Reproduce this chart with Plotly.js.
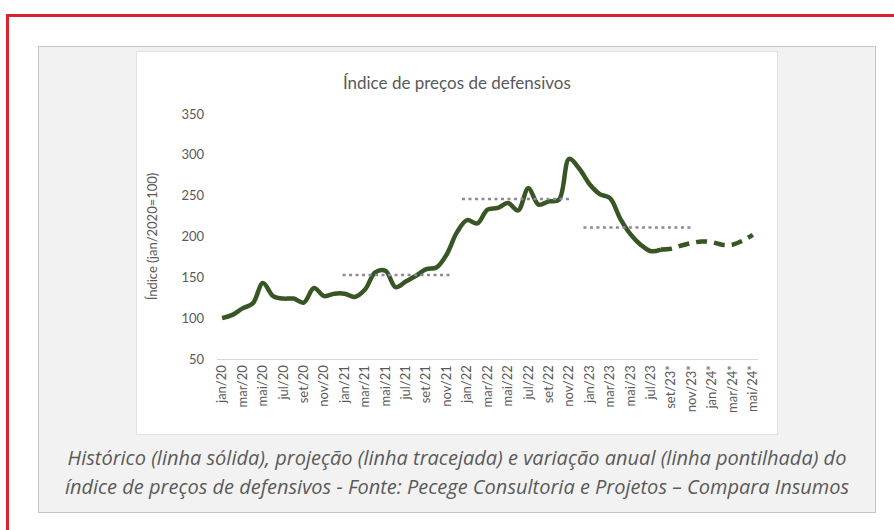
<!DOCTYPE html>
<html>
<head>
<meta charset="utf-8">
<script src="https://cdn.plot.ly/plotly-3.0.1.min.js"></script>
<style>
  html, body { margin: 0; padding: 0; background: #ffffff; width: 894px; height: 530px; overflow: hidden; }
  #red { position: absolute; left: 6px; top: 14px; width: 1000px; height: 700px; border: 3px solid #d9232e; box-sizing: border-box; }
  #grey { position: absolute; left: 38px; top: 46px; width: 838px; height: 467px; background: #f2f2f2; border: 1px solid #c6c6c6; box-sizing: border-box; }
  #white { position: absolute; left: 136px; top: 51px; width: 642px; height: 384px; background: #ffffff; border: 1px solid #e2e2e2; box-sizing: border-box; }
  #caption { position: absolute; left: 18px; top: 443px; width: 878px; text-align: center; font-family: "Open Sans", sans-serif; font-style: italic; font-size: 20px; line-height: 29px; color: #5a5a5a; white-space: nowrap; }
  #chart { position: absolute; left: 0; top: 0; width: 894px; height: 530px; }
</style>
</head>
<body>
<div id="red"></div>
<div id="grey"></div>
<div id="white"></div>
<div id="caption">Histórico (linha sólida), projeção (linha tracejada) e variação anual (linha pontilhada) do<br>índice de preços de defensivos - Fonte: Pecege Consultoria e Projetos – Compara Insumos</div>
<div id="chart"></div>
<script>
// Monthly categories jan/20 .. mai/24 (index 0..52)
const months = ["jan/20","fev/20","mar/20","abr/20","mai/20","jun/20","jul/20","ago/20","set/20","out/20","nov/20","dez/20",
  "jan/21","fev/21","mar/21","abr/21","mai/21","jun/21","jul/21","ago/21","set/21","out/21","nov/21","dez/21",
  "jan/22","fev/22","mar/22","abr/22","mai/22","jun/22","jul/22","ago/22","set/22","out/22","nov/22","dez/22",
  "jan/23","fev/23","mar/23","abr/23","mai/23","jun/23","jul/23","ago/23","set/23*","out/23*","nov/23*","dez/23*",
  "jan/24*","fev/24*","mar/24*","abr/24*","mai/24*"];

// Historical index (solid line), jan/20 .. ago/23
const historico = [100,104,112,118,143,127,124,124,119,137,127,130,
  130,126,135,156,158,138,145,152,160,162,178,205,
  220,216,233,235,241,232,259,239,243,245,295,283,
  264,252,247,222,203,190,182,184];

// Projection (dashed line), ago/23 .. mai/24*
const projecaoStart = 43;
const projecao = [184,185,189,192,194,193,190,190,195,202];

// Annual averages (dotted lines)
const mediaValores = [153, 246, 211];
const mediaInicio = [11.8, 23.5, 35.4];
const mediaFim = [22.4, 34.1, 46.0];

// Tick labels every two months
const tickIdx = [];
const tickLabels = [];
for (let i = 0; i < months.length; i += 2) { tickIdx.push(i); tickLabels.push(months[i]); }

const green = '#375623';
const traces = [];
traces.push({
  x: historico.map((_, i) => i), y: historico, mode: 'lines', type: 'scatter',
  line: { color: green, width: 4.5, shape: 'spline', smoothing: 1 }, hoverinfo: 'y', showlegend: false
});
traces.push({
  x: projecao.map((_, i) => i + projecaoStart), y: projecao, mode: 'lines', type: 'scatter',
  line: { color: green, width: 4.5, shape: 'spline', smoothing: 1, dash: '11px,7px' }, showlegend: false
});
for (let k = 0; k < mediaValores.length; k++) {
  traces.push({
    x: [mediaInicio[k], mediaFim[k]], y: [mediaValores[k], mediaValores[k]], mode: 'lines', type: 'scatter',
    line: { color: '#8a8a9c', width: 2.5, dash: '3px,3.5px' }, showlegend: false
  });
}

const tickFont = { family: 'Lato, sans-serif', size: 13, color: '#595959' };
const layout = {
  width: 894, height: 530,
  margin: { l: 217, r: 136, t: 114, b: 171 },
  paper_bgcolor: 'rgba(0,0,0,0)', plot_bgcolor: 'rgba(0,0,0,0)',
  title: { text: 'Índice de preços de defensivos', font: { family: 'Lato, sans-serif', size: 17, color: '#595959' },
           xref: 'container', yref: 'container', x: 0.511, y: 1 - 83/530, xanchor: 'center', yanchor: 'middle' },
  xaxis: { range: [-0.5, 52.5], tickmode: 'array', tickvals: tickIdx, ticktext: tickLabels, tickangle: -90,
           tickfont: tickFont, showgrid: false, zeroline: false, showline: true, linecolor: '#d9d9d9', linewidth: 1,
           ticks: '', fixedrange: true },
  yaxis: { range: [50, 350], dtick: 50, tick0: 50, tickfont: tickFont, showgrid: false, zeroline: false, showline: false,
           ticks: '', ticklabelstandoff: 12, fixedrange: true,
           title: { text: 'Índice (jan/2020=100)', font: { family: 'Lato, sans-serif', size: 13, color: '#595959' }, standoff: 20 } },
  showlegend: false
};
Plotly.newPlot('chart', traces, layout, { displayModeBar: false, staticPlot: true });
</script>
</body>
</html>
